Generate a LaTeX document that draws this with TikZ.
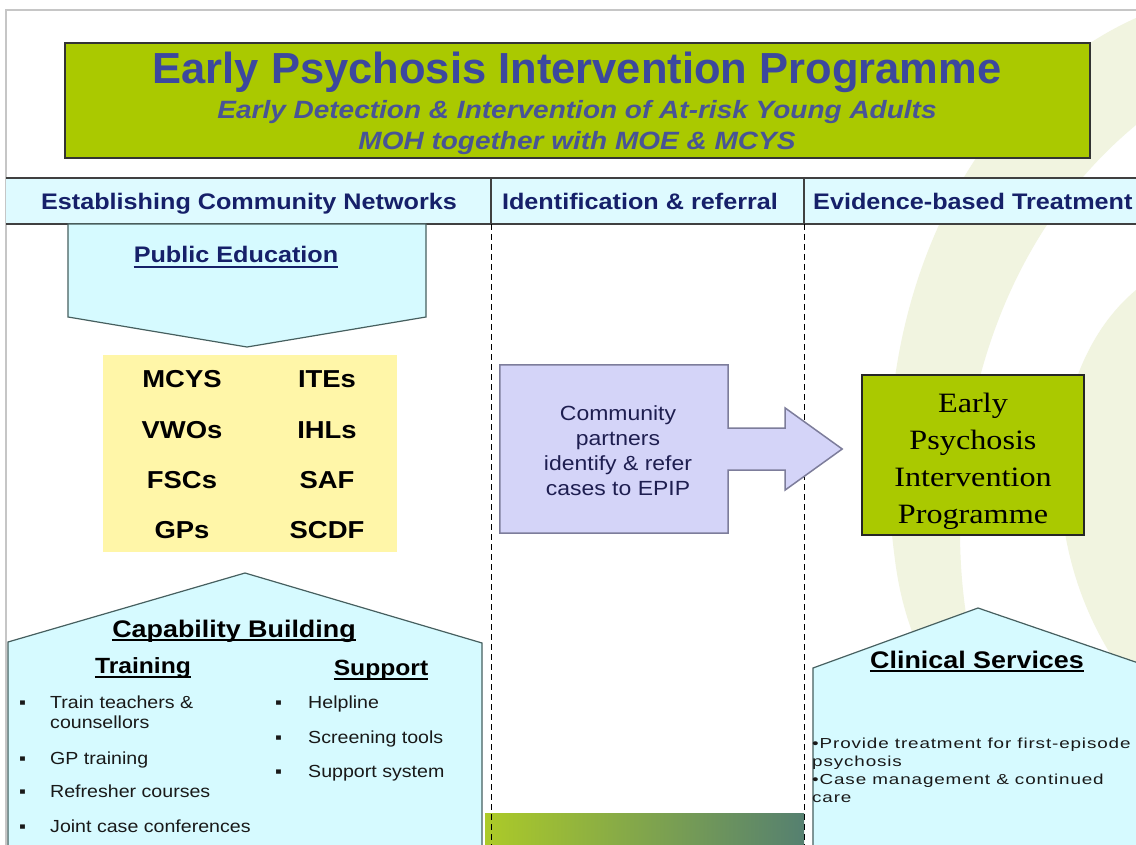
\documentclass[tikz,border=0pt]{standalone}
\usepackage{fontspec}
\setmainfont{Liberation Sans}[FakeStretch=1.12]
\newfontfamily\titlefont{Liberation Sans}
\newfontfamily\smallfont{Liberation Sans}[FakeStretch=1.3,LetterSpace=6]
\newfontfamily\epipfont{Liberation Serif}[FakeStretch=1.15]
\usetikzlibrary{positioning,calc}

\definecolor{epipgreen}{RGB}{170,201,0}
\definecolor{titleblue}{RGB}{60,72,158}
\definecolor{subblue}{RGB}{72,84,150}
\definecolor{headnavy}{RGB}{22,32,105}
\definecolor{headcyan}{RGB}{222,250,255}
\definecolor{panelcyan}{RGB}{214,250,255}
\definecolor{paneledge}{RGB}{70,95,95}
\definecolor{orgyellow}{RGB}{255,246,168}
\definecolor{referlilac}{RGB}{212,212,248}
\definecolor{referedge}{RGB}{125,125,155}
\definecolor{textnavy}{RGB}{30,30,80}
\definecolor{swoosh}{RGB}{241,244,224}
\definecolor{bandgreen}{RGB}{172,202,40}
\definecolor{bandteal}{RGB}{85,128,112}

\tikzset{
  txt/.style={inner sep=0pt, anchor=base},
  panel/.style={fill=panelcyan, draw=paneledge, line width=1.2pt},
  uline/.style={line width=1.3pt},
  colhead/.style={txt, text=headnavy, font=\fontsize{22.5}{27}\selectfont\bfseries},
  bighead/.style={txt, text=black, font=\fontsize{24}{28}\selectfont\bfseries},
  subhead/.style={txt, text=black, font=\fontsize{22}{26}\selectfont\bfseries},
  org/.style={txt, text=black, font=\fontsize{24.5}{28}\selectfont\bfseries},
  item/.style={txt, anchor=base west, text=black!90, font=\fontsize{17.5}{20}\selectfont},
  clin/.style={txt, anchor=base west, text=black!90, font=\smallfont\fontsize{14.5}{18}\selectfont},
  divider/.style={line width=1pt, dash pattern=on 6pt off 4pt},
}

\begin{document}
\begin{tikzpicture}[x=1pt, y=-1pt]
  \fill[white] (0,0) rectangle (1136,845);
  \useasboundingbox (0,0) rectangle (1136,845);

  % Background swooshes
  \fill[swoosh] (1136,18) .. controls (975,90) and (860,300) .. (895,560)
    .. controls (905,640) and (940,700) .. (985,745) -- (1005,735)
    .. controls (935,620) and (925,300) .. (1136,125) -- cycle;
  \fill[swoosh] (1136,290) .. controls (1040,370) and (1030,560) .. (1136,690) -- cycle;

  % Slide frame
  \draw[gray!45, line width=1.5pt] (6,845) -- (6,10) -- (1136,10);

  % Title banner
  \node[draw=black!80, fill=epipgreen, line width=1.2pt, minimum width=1025pt, minimum height=115pt, inner sep=0pt] (banner) at (577.5,100.5) {};
  \node[txt, text=titleblue, font=\titlefont\fontsize{43.5}{50}\selectfont\bfseries] (title) at (577,84) {Early Psychosis Intervention Programme};
  \node[txt, text=subblue, font=\fontsize{25}{30}\selectfont\bfseries\itshape] (subtitle) at (577,119) {Early Detection \& Intervention of At-risk Young Adults};
  \node[txt, text=subblue, font=\fontsize{25}{30}\selectfont\bfseries\itshape] (ministries) at (577,150) {MOH together with MOE \& MCYS};

  % Column headings
  \fill[headcyan] (6,178) rectangle (1136,224);
  \draw[black!75, line width=1.2pt] (6,178) -- (1136,178);
  \draw[black!75, line width=1.2pt] (6,224) -- (1136,224);
  \draw[black!75, line width=1.2pt] (491,178) -- (491,224);
  \draw[black!75, line width=1.2pt] (804,178) -- (804,224);
  \node[colhead] (colnet) at (249,210) {Establishing Community Networks};
  \node[colhead] (colref) at (640,210) {Identification \& referral};
  \node[colhead, anchor=base west] (coltreat) at (813,210) {Evidence-based Treatment};

  % Bottom band and column dividers
  \shade[left color=bandgreen, right color=bandteal] (485,813) rectangle (804,845);
  \draw[divider] (491,224) -- (491,845);
  \draw[divider] (804,224) -- (804,845);

  % Public education
  \filldraw[panel] (68,224) -- (426,224) -- (426,317) -- (247,347) -- (68,317) -- cycle;
  \node[colhead] (pubedu) at (236,263) {Public Education};
  \draw[uline, headnavy] ([yshift=-4pt]pubedu.base west) -- ([yshift=-4pt]pubedu.base east);

  % Partner organisations
  \node[fill=orgyellow, minimum width=294pt, minimum height=197pt] (orgs) at (250,453.5) {};
  \foreach \a/\b/\y in {MCYS/ITEs/387, VWOs/IHLs/438, FSCs/SAF/488, GPs/SCDF/538} {
    \node[org] (org-a-\y) at (182,\y) {\a};
    \node[org] (org-b-\y) at (327,\y) {\b};
  }

  % Capability building
  \filldraw[panel] (8,870) -- (8,642) -- (245,573) -- (482,643) -- (482,870) -- cycle;
  \node[bighead] (capab) at (234,637) {Capability Building};
  \draw[uline] ([yshift=-3pt]capab.base west) -- ([yshift=-3pt]capab.base east);
  \node[subhead] (training) at (143,673) {Training};
  \draw[uline] ([yshift=-4pt]training.base west) -- ([yshift=-4pt]training.base east);
  \node[subhead] (support) at (381,675) {Support};
  \draw[uline] ([yshift=-4pt]support.base west) -- ([yshift=-4pt]support.base east);

  \foreach \y in {708,764,797,832}
    \node[item] (tbul-\y) at (19,\y) {▪};
  \node[item] (train1) at (50,708) {Train teachers \&};
  \node[item] (train2) at (50,728) {counsellors};
  \node[item] (train3) at (50,764) {GP training};
  \node[item] (train4) at (50,797) {Refresher courses};
  \node[item] (train5) at (50,832) {Joint case conferences};

  \foreach \y in {708,743,777}
    \node[item] (sbul-\y) at (275,\y) {▪};
  \node[item] (supp1) at (308,708) {Helpline};
  \node[item] (supp2) at (308,743) {Screening tools};
  \node[item] (supp3) at (308,777) {Support system};

  % Referral callout
  \node[fill=referlilac, minimum width=228pt, minimum height=168pt] (refer) at (614,449) {};
  \filldraw[fill=referlilac, draw=referedge, line width=1.5pt]
    (refer.north west) -- (refer.north east) -- ($(refer.east)+(0,-21)$) -- ++(57,0) -- ++(0,-20)
    -- ($(refer.east)+(114,0)$) -- ($(refer.east)+(57,41)$) -- ++(0,-20) -- ($(refer.east)+(0,21)$)
    -- (refer.south east) -- (refer.south west) -- cycle;
  \node[align=center, text=textnavy, font=\fontsize{20.5}{25}\selectfont] (refertxt) at (618,451)
    {Community\\partners\\identify \& refer\\cases to EPIP};

  % Programme box
  \node[draw=black!85, fill=epipgreen, line width=1.2pt, minimum width=222pt, minimum height=160pt] (epip) at (973,455) {};
  \node[align=center, font=\epipfont\fontsize{28}{37}\selectfont] (epiptxt) at (973,461)
    {Early\\Psychosis\\Intervention\\Programme};

  % Clinical services
  \filldraw[panel] (813,870) -- (813,668) -- (978,608) -- (1150,667) -- (1150,870) -- cycle;
  \node[bighead] (clinic) at (977,668) {Clinical Services};
  \draw[uline] ([yshift=-3pt]clinic.base west) -- ([yshift=-3pt]clinic.base east);
  \node[clin] (clin1) at (812,748) {•Provide treatment for first-episode};
  \node[clin] (clin2) at (812,766) {psychosis};
  \node[clin] (clin3) at (812,784) {•Case management \& continued};
  \node[clin] (clin4) at (812,802) {care};
\end{tikzpicture}
\end{document}
